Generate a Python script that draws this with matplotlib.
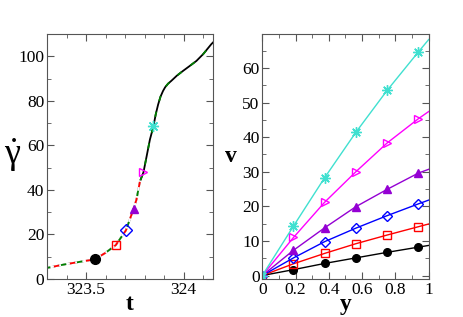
import numpy as np
import matplotlib
matplotlib.use('Agg')
import matplotlib.pyplot as plt
from matplotlib.ticker import MultipleLocator, FormatStrFormatter

plt.rcParams['font.family'] = 'Liberation Serif'
plt.rcParams['mathtext.fontset'] = 'custom'
plt.rcParams['mathtext.rm'] = 'Liberation Serif'
plt.rcParams['mathtext.it'] = 'Liberation Serif'

# left panel: shear rate vs time
t_curve = [323.29, 323.393, 323.495, 323.544, 323.597, 323.652, 323.704, 323.743, 323.758,
           323.776, 323.794, 323.81, 323.827, 323.845, 323.857, 323.869, 323.881, 323.894,
           323.905, 323.92, 323.937, 323.965, 323.996, 324.03, 324.065, 324.10, 324.141,
           324.15]
g_curve = [4.8, 6.6, 8.1, 8.8, 11.6, 15.2, 21.8, 31.4, 35.6,
           43.8, 47.9, 55.0, 62.6, 68.5, 74.0, 78.3, 81.8, 84.4,
           86.1, 87.7, 89.0, 91.3, 93.4, 95.6, 97.9, 101.0, 105.4,
           106.2]

t_marks = [323.544, 323.652, 323.704, 323.743, 323.794, 323.845]
g_marks = [8.8, 15.2, 21.8, 31.4, 47.9, 68.5]

# right panel: velocity profiles
y_pos = [0, 0.1875, 0.375, 0.5625, 0.75, 0.9375, 1.0]
v_black = [0, 1.7, 3.5, 5.1, 6.7, 8.2, 8.7]
v_red = [0, 3.4, 6.4, 9.2, 11.7, 14.1, 14.9]
v_blue = [0, 5.1, 9.8, 13.7, 17.3, 20.7, 21.8]
v_purple = [0, 7.3, 13.8, 19.9, 24.9, 29.6, 30.7]
v_magenta = [0, 11.0, 21.2, 30.0, 38.3, 45.3, 47.4]
v_cyan = [0, 14.3, 28.3, 41.4, 53.5, 64.6, 68.2]

colors = ['black', 'red', 'blue', '#9400D3', 'magenta', '#40E0D0']
markers = ['o', 's', 'D', '^', '>', (8, 2, 0)]
filled = [True, False, False, True, False, True]
profiles = [v_black, v_red, v_blue, v_purple, v_magenta, v_cyan]
sizes_left = [7, 6, 6, 6, 6, 8]
sizes_right = [5.5, 5.5, 5.5, 5.5, 5.5, 7.5]

fig = plt.figure(figsize=(4.63, 3.17), dpi=100)
ax1 = fig.add_axes([0.1015, 0.1199, 0.3585, 0.7728])
ax2 = fig.add_axes([0.5665, 0.1199, 0.3594, 0.7728])

ax1.plot(t_curve, g_curve, color='black', lw=1.3)
lower = [i for i, t in enumerate(t_curve) if t < 323.78]
t_low = [t_curve[i] for i in lower]
g_low = [g_curve[i] for i in lower]
ax1.plot(t_low, g_low, color='white', lw=1.6)
ax1.plot(t_low, g_low, color='red', lw=1.3, ls=(4, (3, 6)), dash_capstyle='butt')
ax1.plot(t_curve, g_curve, color='green', lw=1.3, ls=(0, (3, 6)), dash_capstyle='butt')
for i in range(6):
    fc = colors[i] if filled[i] else 'none'
    ax1.plot(t_marks[i], g_marks[i], marker=markers[i], color=colors[i], mfc=fc,
             mec=colors[i], ms=sizes_left[i], mew=1.0, zorder=5)

ax1.set_xlim(323.3, 324.15)
ax1.set_ylim(0, 110)
ax1.xaxis.set_major_locator(MultipleLocator(0.5))
ax1.xaxis.set_minor_locator(MultipleLocator(0.1))
ax1.yaxis.set_major_locator(MultipleLocator(20))
ax1.yaxis.set_minor_locator(MultipleLocator(10))
ax1.xaxis.set_major_formatter(FormatStrFormatter('%g'))
ax1.set_xlabel('t', fontsize=17, fontweight='bold', labelpad=-3)
fig.text(0.028, 0.51, r'$\dot{\gamma}$', fontsize=26, ha='center', va='center')

for i in range(6):
    fc = colors[i] if filled[i] else 'none'
    ax2.plot(y_pos, profiles[i], color=colors[i], lw=1.0)
    ax2.plot(y_pos[:-1], profiles[i][:-1], ls='none', marker=markers[i], color=colors[i],
             mfc=fc, mec=colors[i], ms=sizes_right[i], mew=1.0)

ax2.set_xlim(0, 1)
ax2.set_ylim(-1, 69.8)
ax2.xaxis.set_major_locator(MultipleLocator(0.2))
ax2.xaxis.set_minor_locator(MultipleLocator(0.1))
ax2.yaxis.set_major_locator(MultipleLocator(10))
ax2.yaxis.set_minor_locator(MultipleLocator(5))
ax2.xaxis.set_major_formatter(FormatStrFormatter('%g'))
ax2.set_xlabel('y', fontsize=17, fontweight='bold', labelpad=-3)
ax2.set_ylabel('v', fontsize=17, fontweight='bold', rotation=0, labelpad=8, va='center')

for ax in (ax1, ax2):
    ax.tick_params(which='both', direction='in', top=True, right=True, labelsize=12.5,
                   color='#555555', pad=2)
    ax.tick_params(which='major', length=5)
    ax.tick_params(which='minor', length=3)
    for s in ax.spines.values():
        s.set_color('#555555')

fig.savefig('out.png', dpi=100)
